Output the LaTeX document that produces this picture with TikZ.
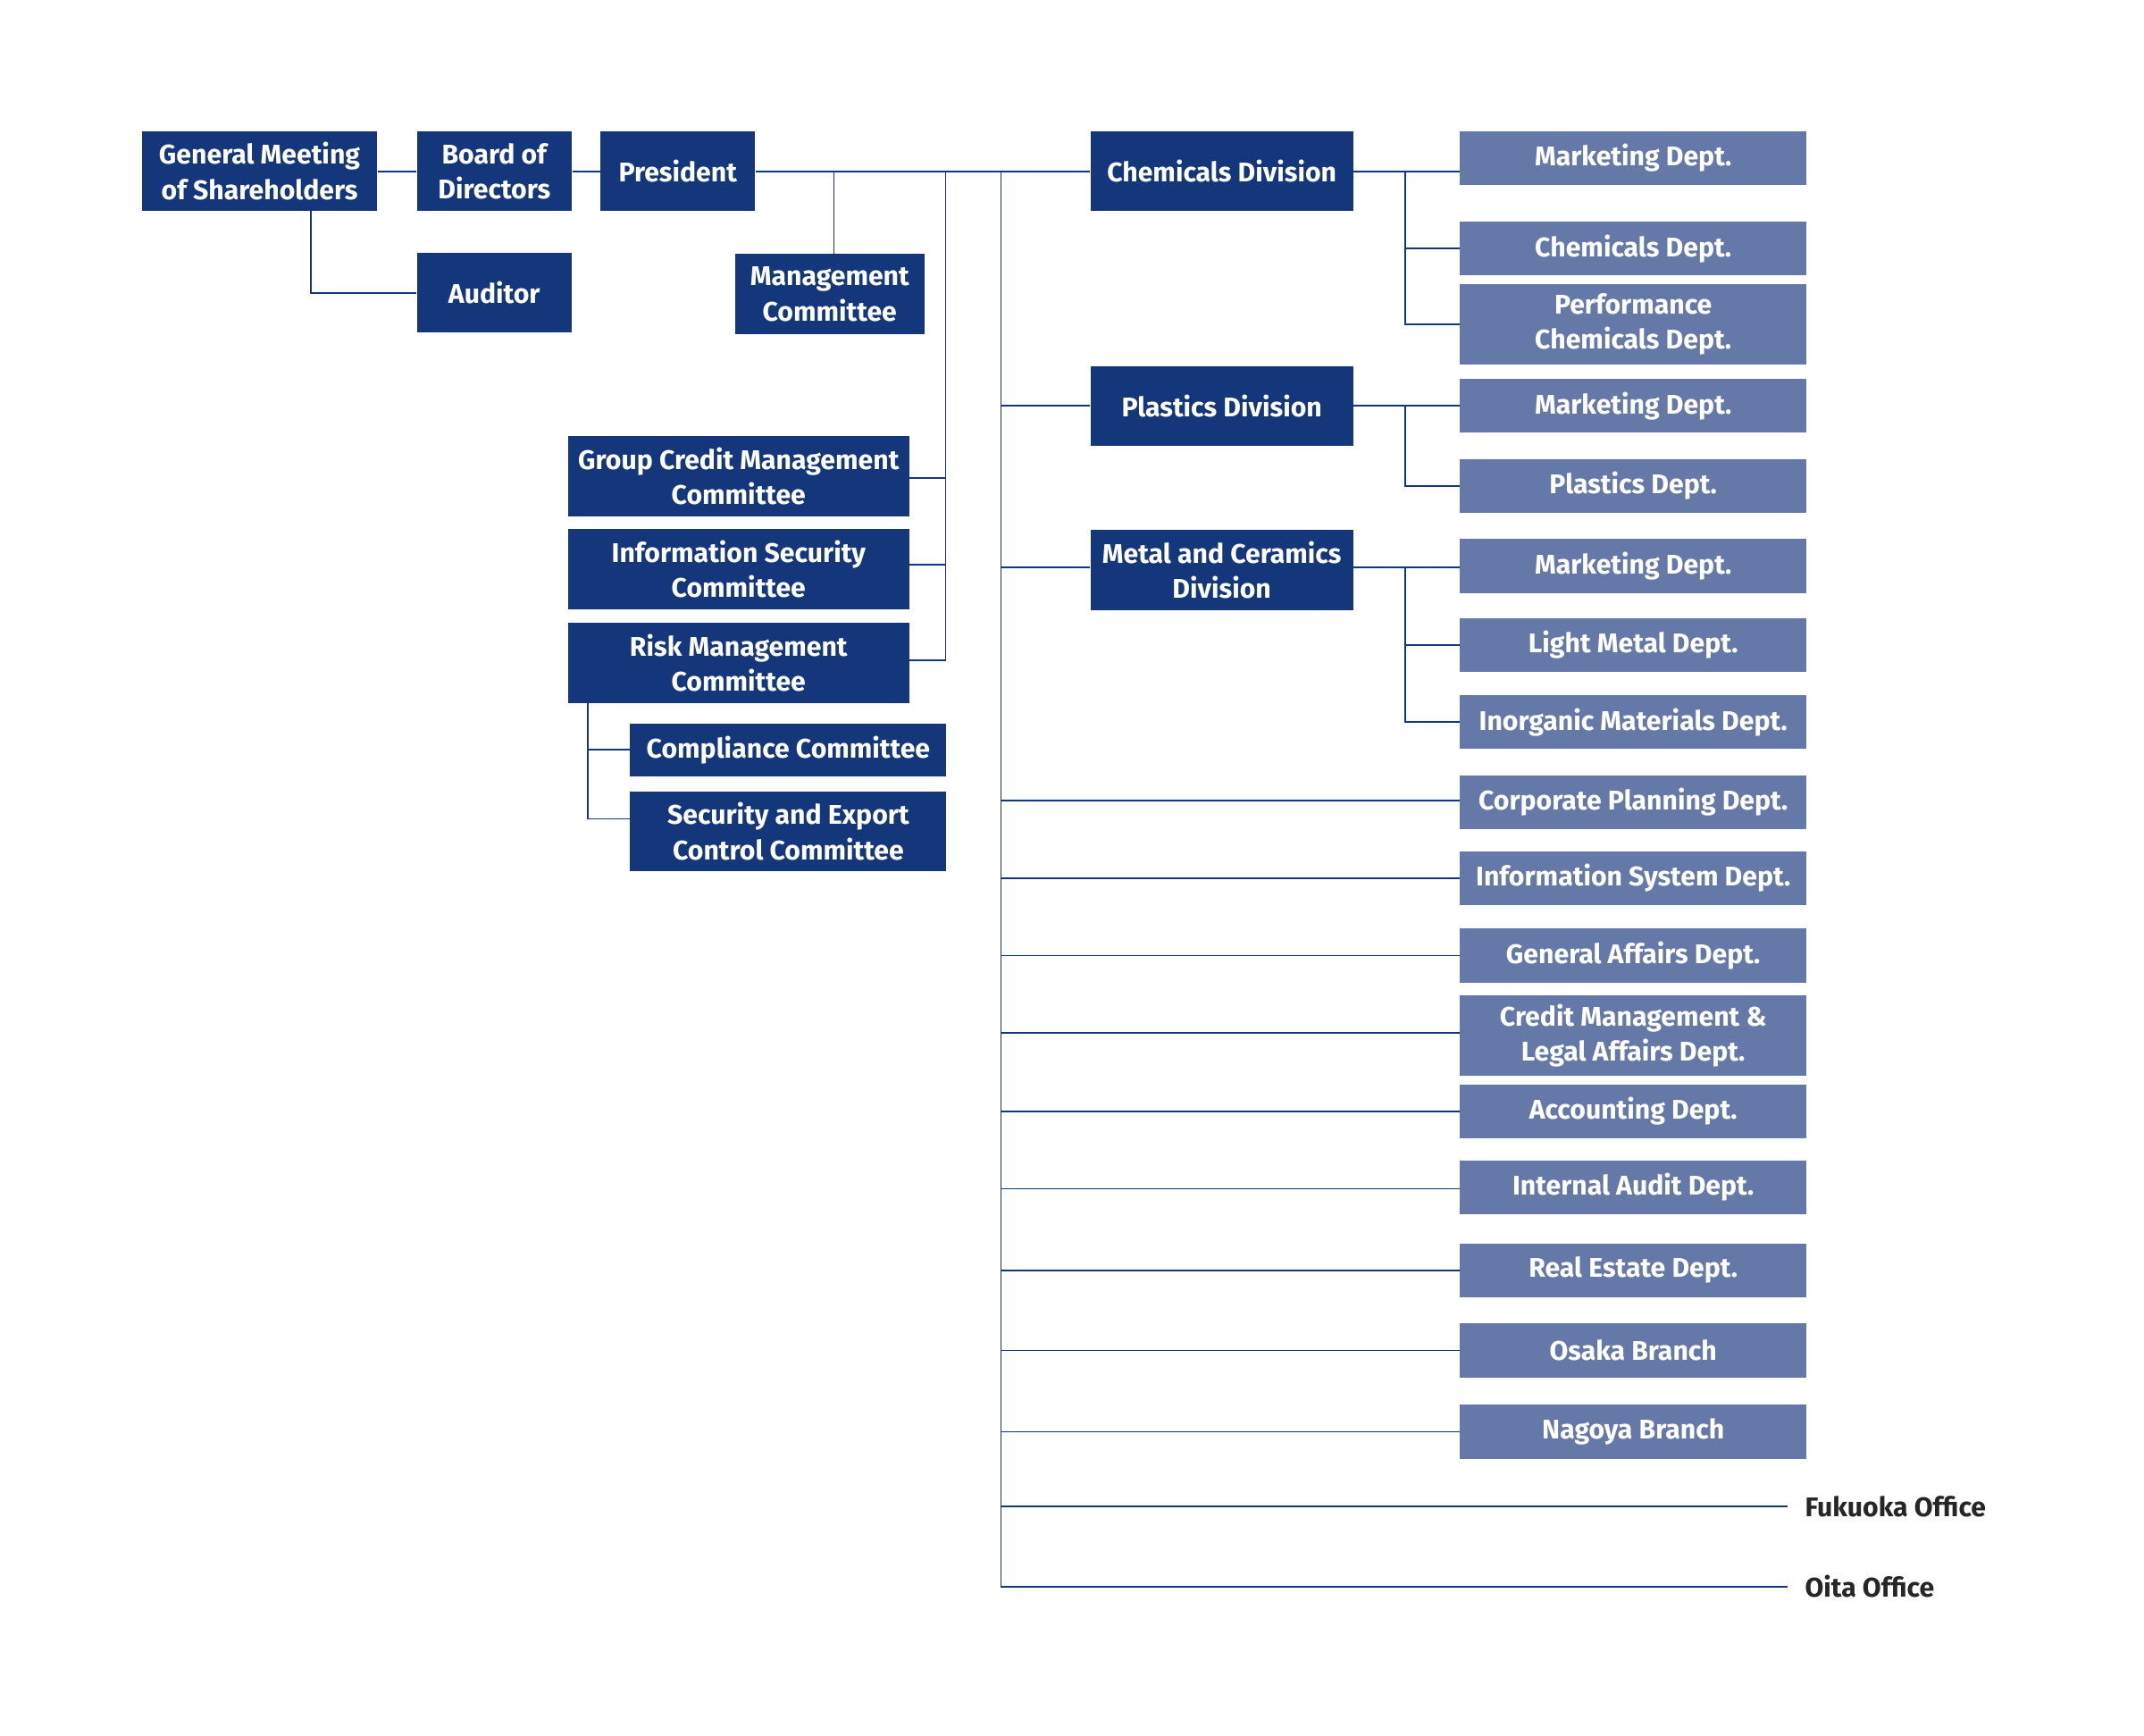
\documentclass[tikz,border=0pt]{standalone}
\usepackage{fontspec}
\setmainfont{Fira Sans}
\definecolor{navy}{RGB}{19,55,122}
\definecolor{steel}{RGB}{100,121,168}
\newcommand\opx{0.01545cm}
\begin{document}
\begin{tikzpicture}[
    x=0.01545cm, y=-0.01545cm,
    box/.style = {fill=navy, text=white, font=\fontsize{8.6}{11.2}\selectfont\bfseries, align=center, inner sep=0pt, minimum height=58*\opx},
    dept/.style = {box, fill=steel, minimum width=251*\opx, minimum height=39*\opx},
    link/.style = {draw=navy, line width=0.5pt}
  ]
  \useasboundingbox (0,0) rectangle (1553,1257);
  % Top row.
  \node[box, minimum width=170*\opx] (gm) at (188,124) {General Meeting\\of Shareholders};
  \node[box, minimum width=112*\opx] (bd) at (358,124) {Board of\\Directors};
  \node[box, minimum width=112*\opx] (pr) at (491,124) {President};
  \node[box, minimum width=112*\opx] (au) at (358,212) {Auditor};
  \node[box, minimum width=137*\opx] (mc) at (601,213) {Management\\Committee};
  % Committees.
  \node[box, minimum width=247*\opx] (gc) at (535,345) {Group Credit Management\\Committee};
  \node[box, minimum width=247*\opx] (is) at (535,412) {Information Security\\Committee};
  \node[box, minimum width=247*\opx] (rm) at (535,480) {Risk Management\\Committee};
  \node[box, minimum width=229*\opx, minimum height=38*\opx] (cc) at (571,543) {Compliance Committee};
  \node[box, minimum width=229*\opx] (se) at (571,602) {Security and Export\\Control Committee};
  % Divisions.
  \node[box, minimum width=190*\opx] (chd) at (885,124) {Chemicals Division};
  \node[box, minimum width=190*\opx] (pld) at (885,294) {Plastics Division};
  \node[box, minimum width=190*\opx] (mtd) at (885,413) {Metal and Ceramics\\Division};
  % Departments.
  \node[dept] (mk1) at (1183,114.5) {Marketing Dept.};
  \node[dept] (chm) at (1183,180) {Chemicals Dept.};
  \node[dept, minimum height=58*\opx] (pfc) at (1183,235) {Performance\\Chemicals Dept.};
  \node[dept] (mk2) at (1183,294) {Marketing Dept.};
  \node[dept] (pls) at (1183,352) {Plastics Dept.};
  \node[dept] (mk3) at (1183,410) {Marketing Dept.};
  \node[dept] (lmt) at (1183,467) {Light Metal Dept.};
  \node[dept] (ino) at (1183,523) {Inorganic Materials Dept.};
  \node[dept] (cpd) at (1183,581) {Corporate Planning Dept.};
  \node[dept] (isd) at (1183,636) {Information System Dept.};
  \node[dept] (gad) at (1183,692) {General Affairs Dept.};
  \node[dept, minimum height=58*\opx] (cml) at (1183,750) {Credit Management \&\\Legal Affairs Dept.};
  \node[dept] (acc) at (1183,805) {Accounting Dept.};
  \node[dept] (iad) at (1183,860) {Internal Audit Dept.};
  \node[dept] (red) at (1183,920) {Real Estate Dept.};
  \node[dept] (osk) at (1183,978) {Osaka Branch};
  \node[dept] (ngy) at (1183,1037) {Nagoya Branch};
  \node[anchor=west, inner sep=0pt, text=black!85, font=\fontsize{8.6}{11.2}\selectfont\bfseries] (fko) at (1307,1091) {Fukuoka Office};
  \node[anchor=west, inner sep=0pt, text=black!85, font=\fontsize{8.6}{11.2}\selectfont\bfseries] (oit) at (1307,1149) {Oita Office};
  \coordinate (fkoe) at (1295,1091);
  \coordinate (oite) at (1295,1149);
  % Spines.
  \coordinate (sp1) at (604,124);
  \coordinate (sp2) at (685,124);
  \coordinate (sp3) at (725,124);
  \coordinate (sp4) at (1018,124);

  \draw[link] (gm) -- (bd);
  \draw[link] (bd) -- (pr);
  \draw[link] (pr) -- (chd);
  \draw[link] (225,153) |- (au.west);
  \draw[link] (sp1) -- (sp1 |- mc.north);
  \draw[link] (sp2) |- (gc.east |- 0,478);
  \draw[link] (sp2 |- 0,346) -- (gc.east |- 0,346);
  \draw[link] (sp2 |- 0,409) -- (is.east |- 0,409);
  \draw[link] (426,509) |- (se.west |- 0,593);
  \draw[link] (426,543) -- (cc.west);
  \draw[link] (sp3) -- (sp3 |- oite) -- (oite);
  \draw[link] (sp3 |- fkoe) -- (fkoe);
  \draw[link] (sp3 |- pld) -- (pld.west);
  \draw[link] (sp3 |- 0,411) -- (mtd.west |- 0,411);
  \foreach \d/\yy in {cpd/580, isd/636, gad/692, cml/748, acc/805, iad/861, red/920, osk/978, ngy/1037}
    \draw[link] (sp3 |- 0,\yy) -- (\d.west |- 0,\yy);
  \draw[link] (chd.east) -- (chd.east -| mk1.west);
  \draw[link] (sp4) |- (pfc.west);
  \draw[link] (sp4 |- chm) -- (chm.west);
  \draw[link] (pld.east) -- (mk2.west);
  \draw[link] (sp4 |- pld) |- (pls.west);
  \draw[link] (mtd.east |- 0,411) -- (mk3.west |- 0,411);
  \draw[link] (sp4 |- 0,411) |- (ino.west);
  \draw[link] (sp4 |- lmt) -- (lmt.west);
\end{tikzpicture}
\end{document}
